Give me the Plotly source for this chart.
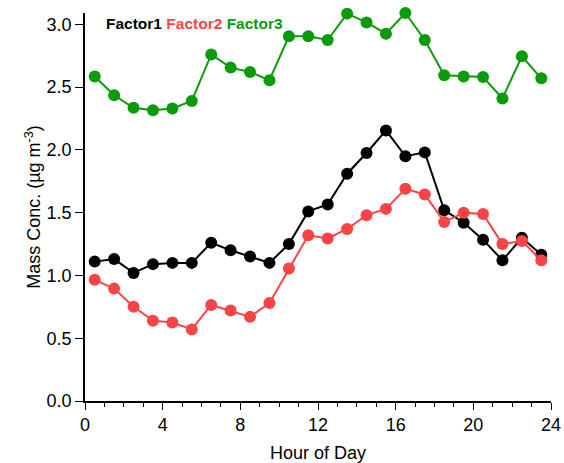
import plotly.graph_objects as go

hours = [h + 0.5 for h in range(24)]
factor1 = [1.11, 1.13, 1.02, 1.09, 1.10, 1.10, 1.26, 1.20, 1.15, 1.10, 1.25, 1.51,
           1.565, 1.81, 1.975, 2.155, 1.95, 1.98, 1.52, 1.42, 1.285, 1.12, 1.30, 1.165]
factor2 = [0.965, 0.895, 0.75, 0.64, 0.625, 0.57, 0.765, 0.72, 0.67, 0.78, 1.055, 1.32,
           1.295, 1.37, 1.48, 1.53, 1.69, 1.645, 1.425, 1.50, 1.49, 1.25, 1.275, 1.12]
factor3 = [2.585, 2.435, 2.335, 2.315, 2.33, 2.39, 2.76, 2.655, 2.62, 2.555, 2.905, 2.905,
           2.875, 3.085, 3.015, 2.925, 3.09, 2.875, 2.595, 2.585, 2.58, 2.41, 2.745, 2.57]

names = ["Factor1", "Factor2", "Factor3"]
colors = ["#000000", "#f84446", "#0a9a0a"]
series = [factor1, factor2, factor3]

FONT = "Liberation Sans, Arial, sans-serif"

fig = go.Figure()
for name, vals, c in zip(names, series, colors):
    fig.add_trace(go.Scatter(x=hours, y=vals, name=name, mode="lines+markers",
                             line=dict(color=c, width=2),
                             marker=dict(color=c, size=12),
                             cliponaxis=False))

legend_text = "<b>" + " ".join(
    f"<span style='color:{c}'>{n}</span>" for n, c in zip(names, colors)) + "</b>"
fig.add_annotation(text=legend_text, xref="paper", yref="paper", x=0.04, y=0.972,
                   xanchor="left", yanchor="middle", showarrow=False,
                   font=dict(size=15.5, family=FONT))

fig.update_layout(
    width=564, height=463,
    margin=dict(l=85, r=13, t=13, b=62),
    plot_bgcolor="white", paper_bgcolor="white",
    showlegend=False,
    font=dict(family=FONT, size=18, color="black"),
)
fig.update_xaxes(range=[0, 24], tickvals=[0, 4, 8, 12, 16, 20, 24],
                 ticks="outside", ticklen=7, tickwidth=1, tickcolor="black",
                 showline=True, linecolor="black", linewidth=1.5,
                 showgrid=False, zeroline=False, automargin=False,
                 minor=dict(dtick=1, ticks="outside", ticklen=4, tickcolor="black", showgrid=False),
                 title=dict(text="Hour of Day", standoff=12, font=dict(size=18)),
                 tickfont=dict(size=18))
fig.update_yaxes(range=[0, 3.09], tickvals=[0, 0.5, 1.0, 1.5, 2.0, 2.5, 3.0],
                 tickformat=".1f",
                 ticks="outside", ticklen=8, tickwidth=1, tickcolor="black",
                 showline=True, linecolor="black", linewidth=1.5,
                 showgrid=False, zeroline=False, automargin=False,
                 title=dict(text="Mass Conc. (µg m<sup>-3</sup>)", standoff=1, font=dict(size=18)),
                 tickfont=dict(size=18))

fig.write_html("out.html",
               config={"displayModeBar": False},
               post_script="document.body.style.margin='0px';document.body.style.overflow='hidden';")
